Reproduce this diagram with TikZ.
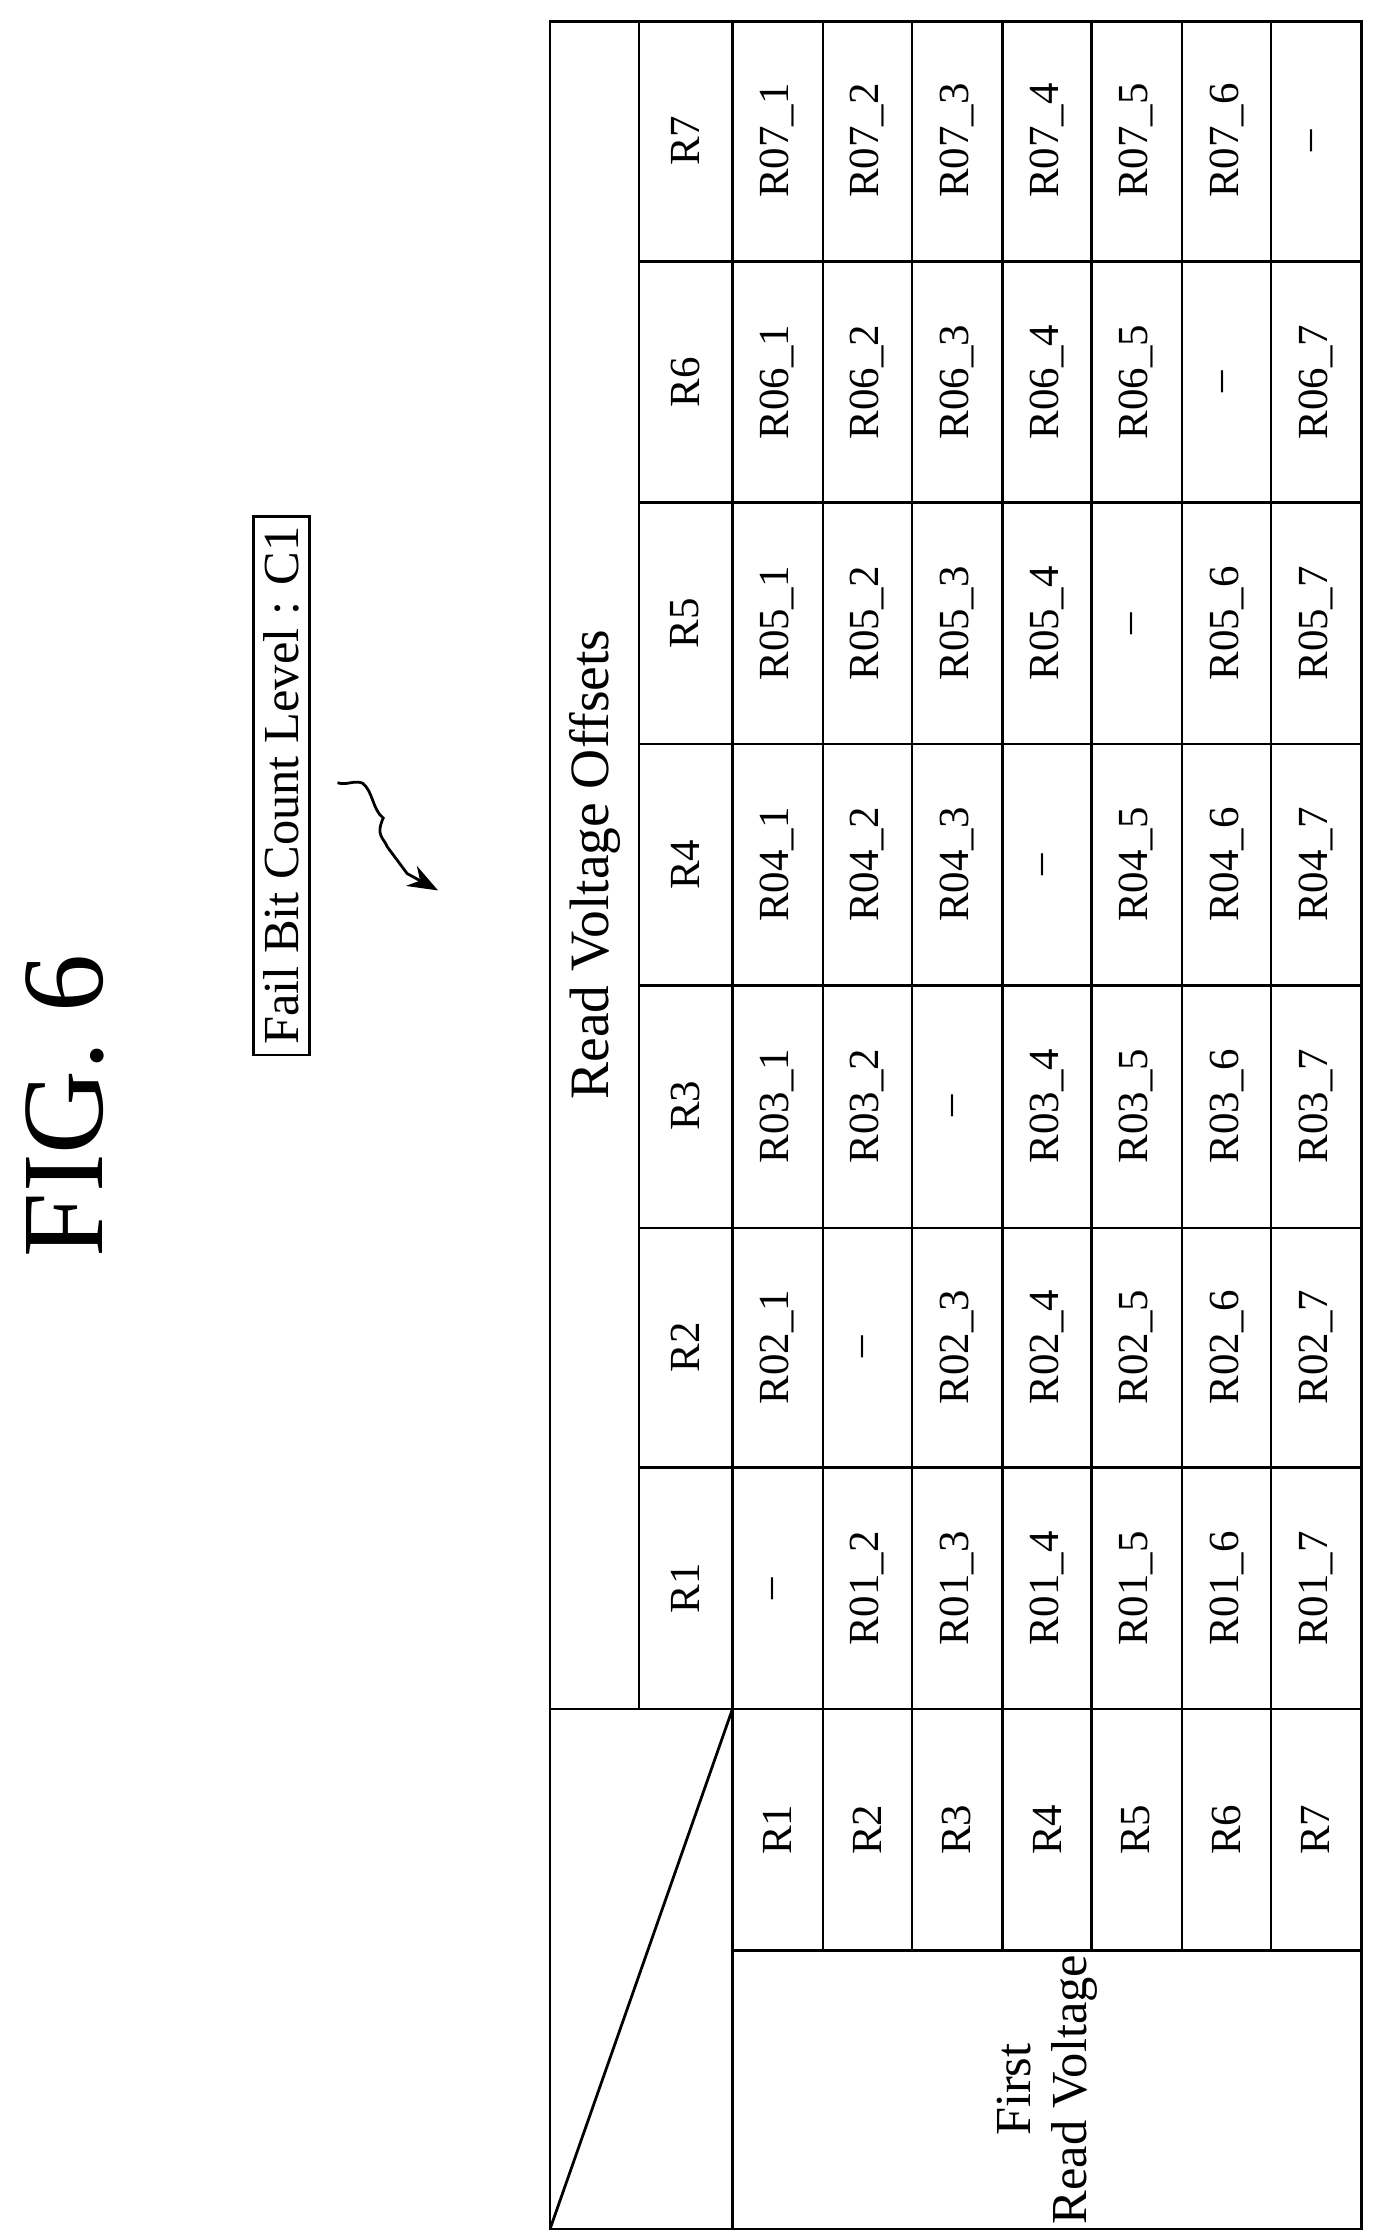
\documentclass[tikz,border=0pt]{standalone}
\usepackage{fontspec}
\setmainfont{Liberation Serif}
\usetikzlibrary{arrows.meta,decorations.pathmorphing}
\begin{document}
\begin{tikzpicture}[x=0.02cm,y=-0.02cm,
  ln/.style={line width=1.1pt},
  tx/.style={rotate=90,font=\fontsize{17}{19}\selectfont,inner sep=0pt},
  hd/.style={rotate=90,font=\fontsize{22}{24}\selectfont,inner sep=0pt}]
\useasboundingbox (0,0) rectangle (960,1559);
\node[rotate=90,font=\fontsize{46}{50}\selectfont] (title) at (45,770) {FIG. 6};
\node[rotate=90,draw,ln,font=\fontsize{20}{22}\selectfont,inner sep=4pt] (fb) at (196,547) {Fail Bit Count Level : C1};
\coordinate (a1) at (235,545);
\coordinate (a2) at (305,620);
\draw[ln,-{Stealth[length=12pt]},decorate,decoration={snake,amplitude=3pt,segment length=30pt,post length=14pt}] (a1) .. controls (280,560) and (250,600) .. (a2);
% table
\draw[ln] (383,15) rectangle (948,1552);
\draw[ln] (445,15) -- (445,1190);
\draw[ln] (510,15) -- (510,1552);
\foreach \x in {573,635,698,760,823,885} \draw[ln] (\x,15) -- (\x,1358);
\foreach \y in {182,350,518,686,855,1022} \draw[ln] (445,\y) -- (948,\y);
\draw[ln] (383,1190) -- (948,1190);
\draw[ln] (510,1358) -- (948,1358);
\draw[ln] (383,1552) -- (510,1190);
\node[hd] (rvo) at (414,602) {Read Voltage Offsets};
\node[hd,align=center,font=\fontsize{20}{22}\selectfont] (frv) at (729,1455) {First\\Read Voltage};
% column headers and row labels
\foreach \i/\y in {1/1106,2/938,3/770,4/602,5/434,6/266,7/98}
  \node[tx] (h\i) at (477,\y) {R\i};
\foreach \i/\x in {1/541,2/604,3/666,4/729,5/791,6/854,7/916}
  \node[tx] (r\i) at (\x,1274) {R\i};
% data
\foreach \r/\x in {1/541,2/604,3/666,4/729,5/791,6/854,7/916}{
  \foreach \c/\y in {1/1106,2/938,3/770,4/602,5/434,6/266,7/98}{
    \ifnum\r=\c
      \node[tx] (d\r\c) at (\x,\y) {--};
    \else
      \node[tx] (d\r\c) at (\x,\y) {R0\c\_\r};
    \fi
  }
}
\end{tikzpicture}
\end{document}
